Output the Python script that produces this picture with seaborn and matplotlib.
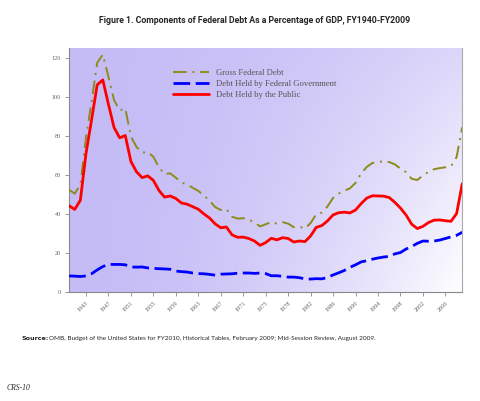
import numpy as np
import pandas as pd
import matplotlib
matplotlib.use("Agg")
import matplotlib.pyplot as plt
import seaborn as sns

# fiscal years, including the 1976 transition quarter
years = [str(y) for y in range(1940, 1977)] + ["TQ"] + [str(y) for y in range(1977, 2010)]

gross = [52.4, 50.4, 54.9, 79.1, 97.6, 117.5, 121.7, 110.3, 98.4, 93.1,
         94.1, 79.7, 74.3, 71.4, 71.8, 69.3, 63.9, 60.4, 60.8, 58.6,
         56.0, 55.2, 53.4, 51.8, 49.3, 46.9, 43.5, 42.0, 42.5, 38.6,
         37.6, 37.8, 37.1, 35.6, 33.6, 34.7, 35.8, 35.0, 35.8, 35.0,
         33.2, 33.4, 32.5, 35.3, 39.9, 40.7, 43.8, 48.2, 50.4, 51.9,
         53.1, 55.9, 60.7, 64.1, 66.1, 66.6, 67.0, 66.6, 65.4, 63.2,
         61.4, 58.0, 57.4, 59.7, 61.6, 62.9, 63.5, 63.9, 64.4, 69.2, 84.5]

public = [44.2, 42.3, 47.0, 70.9, 88.3, 106.2, 108.7, 96.2, 84.3, 79.0,
          80.2, 66.9, 61.6, 58.6, 59.5, 57.2, 52.0, 48.6, 49.2, 47.9,
          45.6, 45.0, 43.7, 42.4, 40.0, 37.9, 34.9, 32.9, 33.3, 29.3,
          28.0, 28.1, 27.4, 26.1, 23.9, 25.3, 27.5, 26.7, 27.8, 27.4,
          25.6, 26.1, 25.8, 28.7, 33.1, 34.0, 36.4, 39.5, 40.6, 40.9,
          40.5, 42.0, 45.3, 48.1, 49.3, 49.2, 49.1, 48.4, 45.9, 43.0,
          39.4, 34.7, 32.5, 33.6, 35.6, 36.8, 36.9, 36.5, 36.2, 40.2, 55.5]

govt = [8.2, 8.1, 7.9, 8.2, 9.3, 11.3, 13.0, 14.1, 14.1, 14.1,
        13.9, 12.8, 12.7, 12.8, 12.3, 12.1, 11.9, 11.8, 11.6, 10.7,
        10.4, 10.2, 9.7, 9.4, 9.3, 9.0, 8.6, 9.1, 9.2, 9.3,
        9.6, 9.7, 9.7, 9.5, 9.7, 9.4, 8.3, 8.3, 8.0, 7.6,
        7.6, 7.3, 6.7, 6.6, 6.8, 6.7, 7.4, 8.7, 9.8, 11.0,
        12.6, 13.9, 15.4, 16.0, 16.8, 17.4, 17.9, 18.2, 19.5, 20.2,
        22.0, 23.3, 24.9, 26.1, 26.0, 26.1, 26.6, 27.4, 28.2, 29.0, 30.6]

tick_labels = ["1943", "1947", "1951", "1955", "1959", "1963", "1967", "1971", "1975",
               "1978", "1982", "1986", "1990", "1994", "1998", "2002", "2006"]

df = pd.DataFrame({"idx": np.arange(len(years)), "year": years,
                   "gross": gross, "public": public, "govt": govt})

sns.set_style("white")
fig = plt.figure(figsize=(4.8, 4.01), dpi=100)
ax = fig.add_axes([0.144, 0.272, 0.819, 0.608])

# purple -> white background gradient
xs = np.linspace(0, 1, 200)
ys = np.linspace(0, 1, 200)
X, Y = np.meshgrid(xs, ys)
t = np.clip(X ** 1.8 * (1 - 0.6 * Y), 0, 1)
purple = np.array([197, 188, 246]) / 255
grad = purple[None, None, :] * (1 - t[..., None]) + t[..., None]
ax.imshow(grad, extent=[0, len(years) - 1, 0, 125], origin="lower",
          aspect="auto", zorder=0)

sns.lineplot(data=df, x="idx", y="gross", ax=ax, color="#8c8c1c", lw=1.4,
             label="Gross Federal Debt", zorder=3)
sns.lineplot(data=df, x="idx", y="govt", ax=ax, color="#0000ff", lw=2.0,
             label="Debt Held by Federal Government", zorder=3)
sns.lineplot(data=df, x="idx", y="public", ax=ax, color="#ff0000", lw=2.0,
             label="Debt Held by the Public", zorder=3)
ax.lines[0].set_dashes([7, 3, 1, 3])
ax.lines[1].set_dashes([6, 2])

ax.set_xlim(0, len(years) - 1)
ax.set_ylim(0, 125)
ax.set_xticks(np.arange(3, len(years), 4))
ax.set_xticklabels(tick_labels, rotation=45, ha="right", rotation_mode="anchor",
                   family="Liberation Serif", fontsize=4.5, color="#666666")
ax.set_yticks(range(0, 121, 20))
ax.set_yticklabels([str(v) for v in range(0, 121, 20)],
                   family="Liberation Serif", fontsize=4.5, color="#666666")
ax.tick_params(axis="both", length=3, width=0.6, color="#888888", pad=3)
ax.tick_params(axis="x", bottom=True)
ax.tick_params(axis="y", left=True)
ax.set_xlabel("")
ax.set_ylabel("")
for s in ax.spines.values():
    s.set_color("#aaaaaa")
    s.set_linewidth(0.8)
ax.spines["top"].set_visible(False)
ax.spines["left"].set_color("#888888")
ax.spines["bottom"].set_color("#888888")

leg = ax.legend(loc="upper left", bbox_to_anchor=(0.255, 0.93), frameon=False,
                prop={"family": "Liberation Serif", "size": 6.2},
                handlelength=4.2, handletextpad=0.8, labelspacing=0.35,
                borderaxespad=0)
for txt in leg.get_texts():
    txt.set_color("#555555")

fig.text(0.531, 0.949, "Figure 1. Components of Federal Debt As a Percentage of GDP, FY1940-FY2009",
         ha="center", va="center", fontsize=6.3, fontweight="bold", family="Roboto")
fig.text(0.045, 0.155, "Source:", ha="left", va="center", fontsize=4.6,
         fontweight="bold", family="DejaVu Sans")
fig.text(0.045 + 0.057, 0.155,
         "OMB, Budget of the United States for FY2010, Historical Tables, February 2009; Mid-Session Review, August 2009.",
         ha="left", va="center", fontsize=4.6, family="Lato")
fig.text(0.013, 0.033, "CRS-10", ha="left", va="center", fontsize=5.5,
         family="Liberation Serif", style="italic")

fig.savefig("out.png", dpi=100)
